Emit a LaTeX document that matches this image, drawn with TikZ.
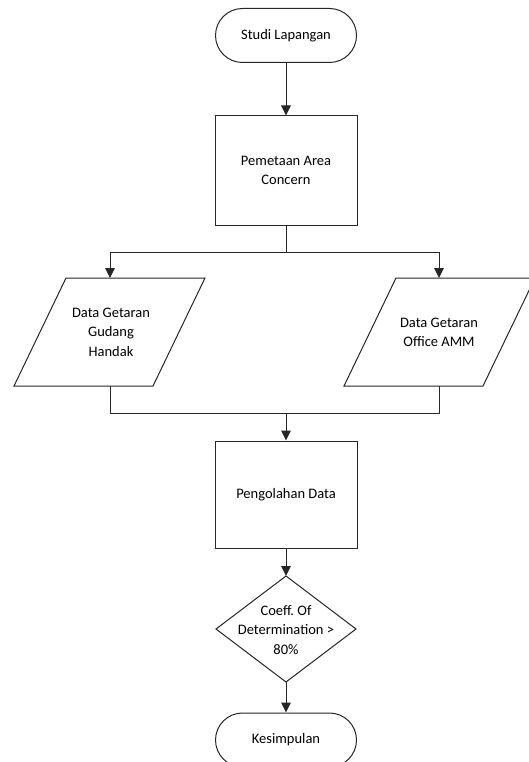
\documentclass[tikz,border=0pt]{standalone}
\usepackage{fontspec}
\setmainfont{Carlito}
\usetikzlibrary{arrows.meta,shapes.misc,shapes.geometric}
\begin{document}
\begin{tikzpicture}[x=1pt,y=-1pt,
  every node/.style={font=\fontsize{14.5}{19.5}\selectfont\frenchspacing, align=center, inner sep=0pt},
  line/.style={line width=1pt, draw=black!85},
  arr/.style={line, -{Triangle[width=9.5pt,length=10pt]}},
  term/.style={rounded rectangle, line, minimum width=141pt, minimum height=54pt},
  proc/.style={rectangle, line, minimum width=142pt},
  para/.style={line, fill=white}
]
\useasboundingbox (0,0) rectangle (529,762);
\fill[white] (0,0) rectangle (529,762);

\node[term] (start) at (286,35.5) {Studi Lapangan};
\node[proc, minimum height=109pt] (map) at (286,170.5) {Pemetaan Area\\Concern};

% parallelograms
\draw[para] (66,278) -- (205,278) -- (153,386) -- (14,386) -- cycle;
\draw[para] (396,278) -- (535,278) -- (483,386) -- (344,386) -- cycle;
\node (d1) at (111,332) {Data Getaran\\Gudang\\Handak};
\node (d2) at (439,332.5) {Data Getaran\\Office AMM};
\coordinate (d1t) at (110,278);
\coordinate (d2t) at (439,278);
\coordinate (d1b) at (110,386);
\coordinate (d2b) at (439,386);
\coordinate (split) at (286,252);
\coordinate (merge) at (286,413);

\node[proc, minimum height=107pt] (olah) at (286,494.5) {Pengolahan Data};

% decision diamond
\coordinate (dect) at (286,576);
\coordinate (decb) at (286,682);
\draw[line] (dect) -- (356,629) -- (decb) -- (216,629) -- cycle;
\node (dec) at (286,630) {Coeff.\ Of\\Determination >\\80\%};

\node[term] (end) at (286,740) {Kesimpulan};

\draw[arr] (start) -- (map);
\draw[line] (map.south) -- (split);
\draw[arr] (split) -| (d1t);
\draw[arr] (split) -| (d2t);
\draw[line] (d1b) |- (merge);
\draw[line] (d2b) |- (merge);
\draw[arr] (merge) -- (olah.north);
\draw[arr] (olah) -- (dect);
\draw[arr] (decb) -- (end.north);
\end{tikzpicture}
\end{document}
